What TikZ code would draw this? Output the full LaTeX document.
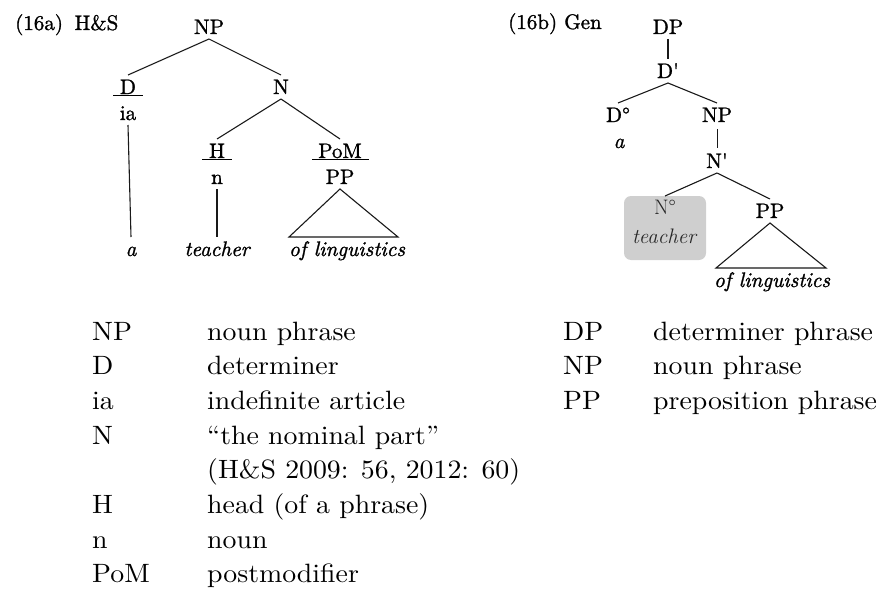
\documentclass[tikz,border=0pt]{standalone}
\usepackage{fontspec}
\newfontfamily\treefont{lmroman10-regular.otf}[Ligatures=TeX, FakeBold=1.2, ItalicFont=lmroman10-italic.otf]
\newfontfamily\legendfont{lmroman10-regular.otf}[Ligatures=TeX, FakeStretch=1.05]
\begin{document}
\begin{tikzpicture}[x=1pt,y=-1pt,
  lab/.style={font=\treefont\fontsize{21}{24}\selectfont, inner sep=0pt, outer sep=5pt,
              text height=14pt, text depth=0pt},
  leaf/.style={lab, font=\treefont\fontsize{21}{24}\selectfont\itshape},
  branch/.style={line width=1.1pt, draw=black!90},
  uline/.style={line width=1pt},
  title/.style={font=\treefont\fontsize{21}{24}\selectfont, inner sep=0pt, anchor=base west},
  legend/.style={font=\legendfont\fontsize{26.5}{30}\selectfont, inner sep=0pt, anchor=base west},
  headbox/.style={fill=black!19, rounded corners=7pt, minimum width=82pt,
                  minimum height=64pt, inner sep=0pt, outer sep=0pt},
  boxtext/.style={lab, font=\fontsize{21}{24}\selectfont, text=black!85},
]
\useasboundingbox (0,0) rectangle (878,602);

% ---------- (16a) H&S ----------
\node[title] (ta) at (15,30) {(16a)\hspace{0.55em}H\&S};
\node[lab] (NPa) at (209,27) {NP};
\node[lab] (Da) at (128,87) {D};
\node[lab] (iaa) at (128,113) {ia};
\node[leaf] (aa) at (131,249) {a};
\node[lab] (Na) at (281,87) {N};
\node[lab] (Ha) at (217,151) {H};
\node[lab] (na) at (217,177) {n};
\node[leaf] (teachera) at (217,249) {teacher};
\node[lab] (PoMa) at (340,151) {PoM};
\node[lab] (PPa) at (340,177) {PP};
\node[leaf] (linga) at (347,249) {of linguistics};

\draw[branch] (NPa.south) -- (Da.north);
\draw[branch] (NPa.south) -- (Na.north);
\draw[branch] (iaa.south) -- (aa.north);
\draw[branch] (Na.south) -- (Ha.north);
\draw[branch] (Na.south) -- (PoMa.north);
\draw[branch] (na.south) -- (teachera.north);
\draw[branch] (PPa.south) -- ([xshift=-58pt]linga.north)
              -- ([xshift=51pt]linga.north) -- cycle;

% function labels are underlined
\draw[uline] ([xshift=-15pt,yshift=-1pt]Da.base) -- ([xshift=15pt,yshift=-1pt]Da.base);
\draw[uline] ([xshift=-15pt,yshift=-1pt]Ha.base) -- ([xshift=15pt,yshift=-1pt]Ha.base);
\draw[uline] ([xshift=-28pt,yshift=-1pt]PoMa.base) -- ([xshift=29pt,yshift=-1pt]PoMa.base);

% ---------- (16b) Gen ----------
\node[title] (tb) at (508,29) {(16b) Gen};
\node[lab] (DPb) at (668,27) {DP};
\node[lab] (Dbarb) at (668,71) {D\textquotesingle};
\node[lab] (D0b) at (618,115) {D°};
\node[leaf] (ab) at (619,141) {a};
\node[lab] (NPb) at (717,115) {NP};
\node[lab] (Nbarb) at (717,161) {N\textquotesingle};
\node[headbox] (boxb) at (665,228) {};
\node[boxtext] (N0b) at (665,207) {N°};
\node[boxtext, font=\fontsize{21}{24}\selectfont\itshape] (teacherb) at (664,236) {teacher};
\node[lab] (PPb) at (770,211) {PP};
\node[leaf] (lingb) at (772,280) {of linguistics};

\draw[branch] (DPb.south) -- (Dbarb.north);
\draw[branch] (Dbarb.south) -- (D0b.north);
\draw[branch] (Dbarb.south) -- (NPb.north);
\draw[branch, line width=0.9pt, shorten <=2pt, shorten >=1pt] (NPb.south) -- (Nbarb.north);
\draw[branch] (Nbarb.south) -- (boxb.north);
\draw[branch] (Nbarb.south) -- (PPb.north);
\draw[branch] (PPb.south) -- ([xshift=-56pt]lingb.north)
              -- ([xshift=54pt]lingb.north) -- cycle;

% ---------- abbreviations ----------
\foreach \ab/\txt [count=\i from 0] in {
    NP/noun phrase,
    D/determiner,
    ia/indefinite article,
    N/``the nominal part'',
    /{(H\&S 2009: 56, 2012: 60)},
    H/head (of a phrase),
    n/noun,
    PoM/postmodifier} {
  \node[legend] (la\i) at (92,340+34.7*\i) {\ab};
  \node[legend] (ld\i) at (207,340+34.7*\i) {\txt};
}
\foreach \ab/\txt [count=\i from 0] in {
    DP/determiner phrase,
    NP/noun phrase,
    PP/preposition phrase} {
  \node[legend] (ra\i) at (563,340+34.7*\i) {\ab};
  \node[legend] (rd\i) at (653,340+34.7*\i) {\txt};
}
\end{tikzpicture}
\end{document}
